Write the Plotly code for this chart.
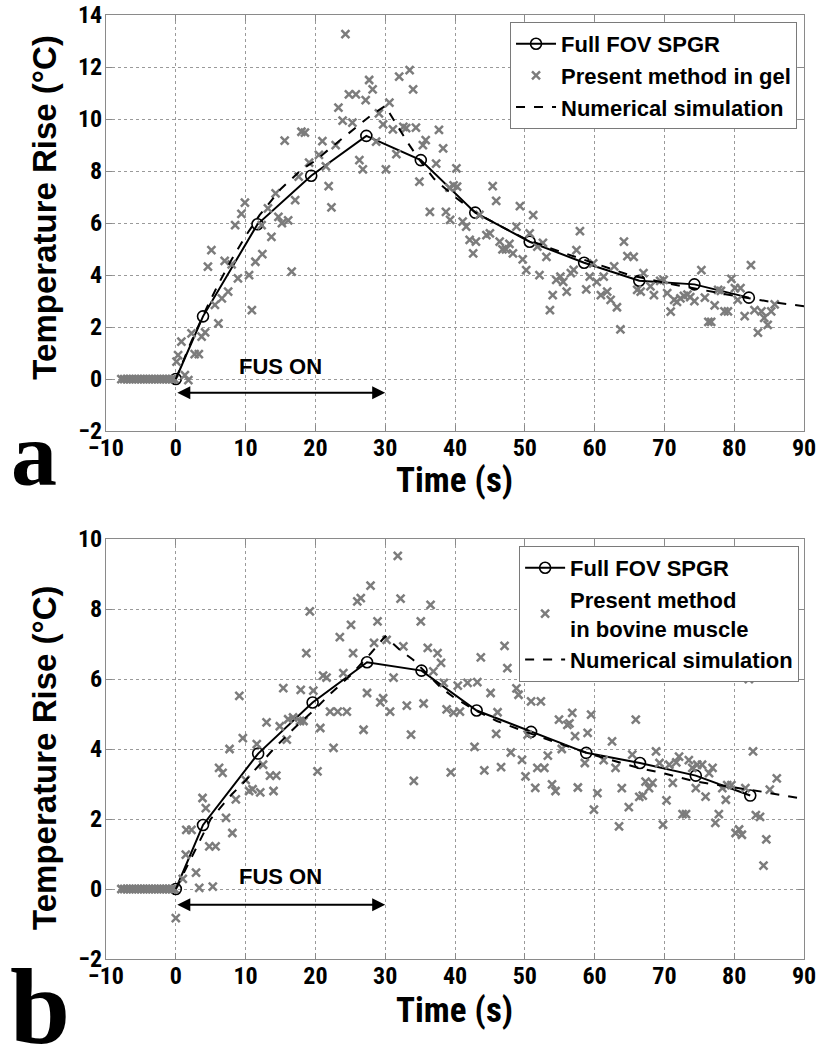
import plotly.graph_objects as go
from plotly.subplots import make_subplots

# ---- panel a: gel ----
fov_t_a = [0, 3.9, 11.7, 19.4, 27.3, 35.1, 42.9, 50.7, 58.5, 66.4, 74.3, 82.1]
fov_v_a = [0, 2.41, 5.95, 7.82, 9.35, 8.42, 6.4, 5.28, 4.47, 3.78, 3.64, 3.13]

sim_t_a = [0, 2, 4, 6, 8, 10, 12, 15, 18, 20, 22, 25, 28, 30, 31.2, 33.3, 35, 37, 40, 43,
           46, 50, 55, 60, 65, 70, 75, 80, 85.7, 90]
sim_v_a = [0, 1.3, 2.5, 3.6, 4.6, 5.5, 6.3, 7.3, 8.05, 8.4, 8.85, 9.5, 10.15, 10.5, 9.96, 9.06,
           8.4, 7.7, 7.0, 6.4, 5.95, 5.4, 4.9, 4.45, 4.0, 3.7, 3.45, 3.2, 2.95, 2.8]

base_t = [-7.8, -7.4, -7.0, -6.6, -6.2, -5.8, -5.4, -5.0, -4.6, -4.2,
          -3.8, -3.4, -3.0, -2.6, -2.2, -1.8, -1.4, -1.0, -0.6, -0.2]
base_v = [0] * len(base_t)

gel_t = [0.1, 0.33, 0.8, 1.3, 1.8, 2.25, 2.7, 3.3, 3.7, 4.2, 4.6, 5.1, 5.6, 6.1, 6.6, 7.0, 7.5,
         8.0, 8.5, 8.9, 9.4, 9.9, 10.5, 10.9, 11.4, 12.3, 12.4, 13.2, 13.7, 14.3, 14.7, 15.2,
         15.6, 16.1, 16.6, 17.1, 17.6, 18.0, 18.5, 19.1, 20.5, 21.0, 21.5, 21.9, 22.3, 22.9,
         23.3, 23.9, 24.3, 24.8, 25.3, 25.8, 26.3, 26.8, 27.2, 27.7, 28.2, 28.7, 29.1, 29.7,
         30.1, 30.6, 31.1, 31.6, 32.0, 32.6, 33.0, 33.5, 34.0, 34.4, 34.9, 35.4, 35.8, 36.4,
         37.3, 37.7, 38.3, 38.7, 39.2, 39.3, 39.8, 40.2, 40.3, 41.1, 41.6, 42.1, 42.6, 43.0,
         43.5, 44.5, 45.0, 45.4, 45.9, 46.4, 46.8, 47.3, 47.8, 48.3, 48.8, 49.3, 49.7, 50.2,
         50.7, 51.2, 51.8, 52.1, 52.6, 53.1, 53.6, 54.0, 54.5, 55.1, 55.5, 56.0, 56.6, 57.0,
         57.4, 57.9, 58.8, 59.3, 59.8, 60.3, 60.9, 61.3, 61.8, 62.3, 62.8, 63.2, 63.7, 64.2,
         64.7, 65.6, 66.1, 66.6, 67.0, 68.0, 68.5, 69.4, 69.9, 70.4, 70.9, 71.4, 71.8, 72.3,
         72.8, 73.3, 73.7, 74.3, 75.3, 75.8, 76.3, 76.7, 77.2, 77.7, 78.1, 78.6, 79.1, 79.6,
         80.1, 80.5, 80.9, 81.5, 82.4, 82.9, 83.4, 83.9, 84.3, 84.8, 85.3, 85.8]
gel_v = [0.67, 0.92, 1.44, 0.15, -0.04, 1.76, 0.96, 0.96, 1.63, 1.79, 4.32, 4.96, 2.85, 2.14,
         3.1, 4.54, 3.36, 4.41, 5.92, 3.87, 6.35, 6.78, 4.0, 2.65, 4.51, 5.92, 4.8, 6.56, 5.47,
         7.14, 6.24, 6.0, 9.17, 6.1, 4.13, 6.88, 7.78, 9.51, 9.48, 8.32, 8.62, 9.15, 8.18, 7.42,
         6.6, 9.0, 10.44, 9.94, 13.26, 10.95, 9.86, 10.95, 8.42, 8.06, 10.73, 11.5, 11.14, 9.13,
         10.22, 9.79, 8.06, 10.63, 9.6, 8.65, 11.63, 9.7, 9.65, 11.88, 11.14, 9.67, 7.59, 9.0,
         9.19, 6.43, 8.28, 9.58, 8.87, 6.43, 7.36, 6.12, 7.45, 8.1, 7.4, 6.05, 5.86, 5.35, 4.83,
         5.28, 6.31, 5.53, 5.6, 7.42, 6.85, 5.28, 4.99, 4.99, 5.2, 4.83, 5.86, 6.65, 4.6, 4.19,
         5.6, 6.3, 5.09, 4.0, 5.24, 4.7, 2.65, 3.23, 3.81, 3.94, 3.74, 3.36, 4.07, 4.2, 4.96,
         5.69, 3.45, 3.94, 4.45, 3.74, 3.23, 3.94, 3.36, 3.04, 4.33, 2.76, 1.91, 5.28, 4.73, 4.7,
         3.43, 3.36, 4.07, 3.56, 3.23, 3.77, 3.81, 3.3, 2.59, 3.04, 2.97, 3.1, 3.2, 3.25, 3.15,
         3.0, 4.19, 3.13, 2.2, 2.2, 2.83, 3.43, 3.39, 2.6, 2.6, 3.85, 3.5, 3.04, 3.5, 2.42, 4.38,
         2.65, 1.78, 2.6, 2.35, 2.08, 2.6, 2.87]

# ---- panel b: bovine muscle ----
fov_t_b = [0, 3.9, 11.8, 19.6, 27.4, 35.2, 43.1, 50.9, 58.8, 66.5, 74.5, 82.3]
fov_v_b = [0, 1.83, 3.87, 5.33, 6.48, 6.24, 5.1, 4.49, 3.89, 3.6, 3.24, 2.67]

sim_t_b = [0, 2, 4, 5, 8, 10, 12, 14, 17, 20, 22, 25, 28, 30, 32, 34, 36, 38, 40, 43, 46, 50,
           55, 60, 66.5, 70, 74.5, 80, 84, 90]
sim_v_b = [0, 0.8, 1.6, 2.0, 2.7, 3.1, 3.55, 4.0, 4.6, 5.15, 5.55, 6.1, 6.75, 7.22, 6.85, 6.55,
           6.15, 5.75, 5.45, 5.1, 4.8, 4.5, 4.15, 3.82, 3.45, 3.3, 3.07, 2.9, 2.78, 2.57]

mus_t = [0.0, 1.0, 1.43, 1.5, 2.25, 2.9, 3.36, 3.83, 4.3, 4.8, 5.3, 5.7, 6.2, 6.7, 7.2, 7.7,
         8.1, 8.6, 9.1, 9.6, 10.0, 10.5, 11.0, 11.6, 12.1, 12.5, 13.0, 13.5, 14.0, 14.4, 14.9,
         15.4, 15.9, 16.1, 16.8, 17.8, 17.9, 18.3, 18.7, 19.2, 19.7, 20.3, 20.7, 21.1, 21.6,
         22.1, 22.6, 23.2, 23.5, 24.0, 24.5, 25.1, 25.4, 26.0, 26.5, 26.9, 27.4, 27.9, 28.4,
         28.9, 29.3, 29.7, 30.2, 30.7, 31.2, 31.8, 32.2, 32.6, 33.1, 33.7, 34.1, 35.1, 35.5,
         36.1, 36.5, 36.9, 37.5, 38.0, 38.4, 38.8, 39.4, 39.8, 40.4, 40.7, 41.8, 42.8, 43.2,
         43.7, 44.2, 45.1, 45.9, 46.1, 46.6, 47.1, 47.5, 48.0, 48.8, 49.1, 49.6, 50.1, 50.4,
         50.9, 51.5, 51.8, 52.3, 52.8, 53.3, 53.9, 54.4, 54.9, 55.3, 56.1, 56.4, 56.8, 57.2,
         57.6, 58.6, 59.0, 59.5, 59.9, 60.4, 61.3, 62.5, 63.0, 63.5, 63.9, 64.9, 65.4, 65.9,
         66.4, 66.9, 67.3, 67.8, 68.3, 68.8, 69.3, 69.8, 70.3, 70.7, 71.2, 71.7, 72.1, 72.6,
         73.1, 73.5, 74.0, 74.5, 74.7, 75.4, 75.9, 76.4, 76.9, 77.3, 77.8, 78.3, 78.8, 79.0,
         79.6, 80.2, 80.7, 81.1, 81.6, 82.1, 82.7, 83.1, 83.7, 84.2, 84.6, 85.1, 86.1]
mus_v = [-0.83, 0.29, 0.98, 1.69, 1.69, 0.47, 0.03, 2.6, 2.31, 1.22, 0.07, 1.22, 3.46, 3.32,
         2.03, 4.0, 1.6, 2.56, 5.52, 4.31, 3.12, 2.8, 2.85, 4.14, 2.76, 3.55, 4.76, 3.24, 2.8,
         3.24, 4.65, 5.74, 4.27, 4.85, 4.9, 4.8, 5.69, 4.8, 6.74, 7.93, 5.67, 3.36, 4.6, 6.1,
         6.04, 5.07, 4.03, 5.07, 7.2, 6.17, 5.07, 7.55, 6.74, 8.22, 8.31, 4.55, 5.6, 8.67, 7.03,
         7.65, 5.33, 5.45, 7.12, 5.07, 6.04, 9.52, 8.3, 6.93, 5.24, 4.41, 3.09, 7.65, 5.3, 6.89,
         8.12, 6.22, 6.74, 6.46, 5.89, 5.13, 3.33, 5.04, 5.81, 5.07, 5.89, 4.06, 5.91, 6.62,
         3.39, 5.6, 4.43, 5.05, 3.48, 6.95, 6.31, 3.9, 5.73, 5.55, 3.69, 3.22, 4.41, 5.36, 2.89,
         3.46, 5.36, 3.46, 3.81, 2.99, 2.8, 4.84, 4.0, 4.69, 4.73, 5.03, 4.37, 2.9, 3.6, 4.46,
         4.98, 2.27, 2.74, 3.68, 4.22, 3.46, 1.79, 2.88, 2.34, 3.84, 4.84, 2.63, 2.67, 3.07,
         2.88, 3.03, 3.93, 3.6, 1.84, 2.53, 3.55, 3.03, 3.62, 3.78, 2.14, 2.14, 3.68, 3.46, 2.88,
         3.55, 3.55, 2.64, 3.31, 3.46, 1.89, 2.14, 2.88, 2.55, 2.97, 2.97, 1.6, 1.7, 1.55, 2.88,
         6.0, 3.93, 2.11, 2.06, 0.67, 1.42, 2.84, 3.16]

x_ticks = [-10, 0, 10, 20, 30, 40, 50, 60, 70, 80, 90]

GRAY = "#7c7c7c"
NARROW = "Roboto Condensed, Liberation Sans"
ARIAL = "Liberation Sans, Arial"
AX_FONT = dict(family=NARROW, size=24, color="black", weight="bold")
LEG_FONT = dict(family=ARIAL, size=22, color="black", weight="bold")

fig = make_subplots(rows=2, cols=1)


def add_panel(row, fov_t, fov_v, pts_t, pts_v, sim_t, sim_v, pts_name, legend):
    fig.add_trace(go.Scatter(x=fov_t, y=fov_v, mode="lines+markers", name="Full FOV SPGR",
                             line=dict(color="black", width=2),
                             marker=dict(symbol="circle-open", size=11, color="black",
                                         line=dict(width=1.6)),
                             legend=legend), row=row, col=1)
    fig.add_trace(go.Scatter(x=base_t + pts_t, y=base_v + pts_v, mode="markers", name=pts_name,
                             marker=dict(symbol="x-thin", size=8, color=GRAY,
                                         line=dict(color=GRAY, width=2.5)),
                             legend=legend), row=row, col=1)
    fig.add_trace(go.Scatter(x=sim_t, y=sim_v, mode="lines", name="Numerical simulation",
                             line=dict(color="black", width=2, dash="dash"),
                             legend=legend), row=row, col=1)


add_panel(1, fov_t_a, fov_v_a, gel_t, gel_v, sim_t_a, sim_v_a,
          "Present method in gel", "legend")
add_panel(2, fov_t_b, fov_v_b, mus_t, mus_v, sim_t_b, sim_v_b,
          "Present method<br>in bovine muscle", "legend2")

axis_common = dict(showline=True, linecolor="#8a8a8a", linewidth=1, mirror="ticks",
                   ticks="inside", ticklen=6, tickcolor="#8a8a8a", automargin=False,
                   showgrid=True, gridcolor="#9a9a9a", griddash="dot", gridwidth=1,
                   zeroline=False, tickfont=AX_FONT)

fig.update_xaxes(range=[-10, 90], tickvals=x_ticks, ticklabelstandoff=-5, **axis_common)
fig.update_yaxes(ticklabelstandoff=-2, **axis_common)
fig.update_yaxes(range=[-2, 14], dtick=2, row=1, col=1)
fig.update_yaxes(range=[-2, 10], dtick=2, row=2, col=1)
fig.update_layout(yaxis=dict(domain=[0.5593, 1.0]), yaxis2=dict(domain=[0.0, 0.4449]))

# axis titles placed as annotations (paper coords)
for ytit, xtit in [(0.797, 0.5065), (0.214, -0.055)]:
    fig.add_annotation(x=-0.0874, y=ytit, xref="paper", yref="paper",
                       text="Temperature Rise (°C)", textangle=-90, showarrow=False,
                       xanchor="center", yanchor="middle",
                       font=dict(family=ARIAL, size=33, color="black", weight="bold"))
    fig.add_annotation(x=0.499, y=xtit, xref="paper", yref="paper", text="Time (s)",
                       showarrow=False, xanchor="center", yanchor="middle",
                       font=dict(family=NARROW, size=35, color="black", weight="bold"))

# FUS ON arrows and labels
for xref, yref, y_arrow, y_text in [("x", "y", -0.53, 0.5), ("x2", "y2", -0.45, 0.35)]:
    fig.add_annotation(x=30, y=y_arrow, ax=0, ay=y_arrow, xref=xref, yref=yref,
                       axref=xref, ayref=yref, text="", showarrow=True,
                       arrowside="end+start", arrowhead=2, arrowsize=1.3, arrowwidth=2,
                       arrowcolor="black")
    fig.add_annotation(x=15, y=y_text, xref=xref, yref=yref, text="FUS ON", showarrow=False,
                       font=dict(family=ARIAL, size=22, color="black", weight="bold"))

# panel letters
for letter, xpos, ypos, size in [("a", -0.103, 0.535, 92), ("b", -0.0946, -0.050, 108)]:
    fig.add_annotation(x=xpos, y=ypos, xref="paper", yref="paper", text=letter,
                       showarrow=False, xanchor="center", yanchor="middle",
                       font=dict(family="Liberation Serif, Times New Roman", size=size,
                                 color="black", weight="bold"))

legend_common = dict(font=LEG_FONT, bgcolor="white", bordercolor="#7a7a7a", borderwidth=1,
                     xanchor="right", yanchor="top", tracegroupgap=0, itemwidth=40)

fig.update_layout(
    width=821, height=1050,
    margin=dict(l=106, r=17, t=15, b=91),
    paper_bgcolor="white", plot_bgcolor="white",
    showlegend=True,
    legend=dict(x=0.990, y=0.9926, **legend_common),
    legend2=dict(x=0.993, y=0.4375, **legend_common),
)

# drop the page's default body margin so the figure sits at the window's corner
fig.write_html("out.html", config={"displayModeBar": False},
               post_script="document.body.style.margin='0';")
